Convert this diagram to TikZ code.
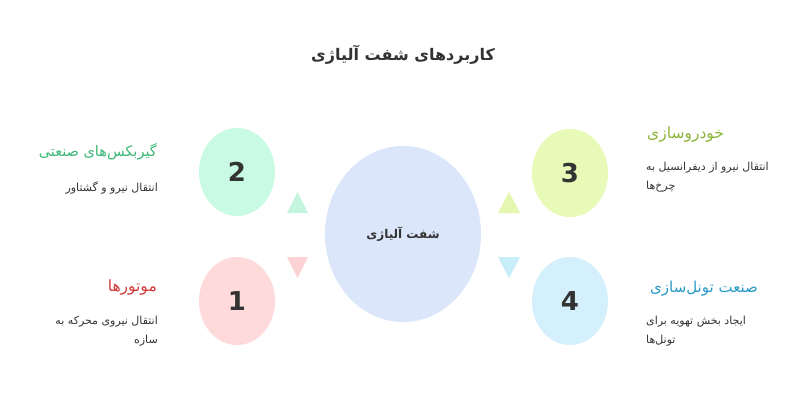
\documentclass[tikz,border=0pt]{standalone}
\usepackage{fontspec}
\usetikzlibrary{shapes.geometric}
\TeXXeTstate=1
\newfontfamily\arabicfont[Script=Arabic]{DejaVu Sans}
\newfontfamily\numfont{DejaVu Sans}
\definecolor{txt}{HTML}{333333}
\definecolor{cmid}{HTML}{DCE6FA}
\definecolor{cone}{HTML}{FEDADA}
\definecolor{ctwo}{HTML}{C8FAE4}
\definecolor{cthree}{HTML}{E8FAB8}
\definecolor{cfour}{HTML}{D4F0FC}
\definecolor{tone}{HTML}{FCD2D4}
\definecolor{ttwo}{HTML}{C4F5DE}
\definecolor{tthree}{HTML}{E4F7B0}
\definecolor{tfour}{HTML}{C8EEFA}
\definecolor{hone}{HTML}{D43A3A}
\definecolor{htwo}{HTML}{3CB878}
\definecolor{hthree}{HTML}{8BB53A}
\definecolor{hfour}{HTML}{2A9BC7}
\tikzset{
  numcirc/.style={ellipse, minimum width=76pt, minimum height=88pt, inner sep=0pt,
    font=\numfont\bfseries\fontsize{26}{26}\selectfont, text=txt},
  headl/.style={anchor=east, inner sep=0pt, font=\arabicfont\fontsize{15.5}{18}\selectfont},
  headr/.style={anchor=west, inner sep=0pt, font=\arabicfont\fontsize{15.5}{18}\selectfont},
  descl/.style={anchor=north east, align=right, text=txt, inner sep=0pt,
    font=\arabicfont\fontsize{11}{19}\selectfont},
  descr/.style={anchor=north west, align=left, text=txt, inner sep=0pt,
    font=\arabicfont\fontsize{11}{19}\selectfont},
}
\begin{document}
\begin{tikzpicture}[x=1pt,y=-1pt]
\useasboundingbox (0,0) rectangle (800,400);
\fill[white] (0,0) rectangle (800,400);
\node[text=txt, font=\arabicfont\bfseries\fontsize{16}{20}\selectfont] (title) at (403,55) {\beginR کاربردهای شفت آلیاژی\endR};
\node[ellipse, fill=cmid, minimum width=156pt, minimum height=176pt, inner sep=0pt,
  text=txt, font=\arabicfont\bfseries\fontsize{12}{16}\selectfont] (mid) at (403,234) {\beginR شفت آلیاژی\endR};
\node[numcirc, fill=ctwo] (n2) at (237,172) {2};
\node[numcirc, fill=cone] (n1) at (237,301) {1};
\node[numcirc, fill=cthree] (n3) at (570,173) {3};
\node[numcirc, fill=cfour] (n4) at (570,301) {4};
\fill[ttwo] (297.5,192) -- (308,213) -- (287,213) -- cycle;
\fill[tone] (287,257) -- (308,257) -- (297.5,278) -- cycle;
\fill[tthree] (509,192) -- (520,213) -- (498,213) -- cycle;
\fill[tfour] (498,257) -- (520,257) -- (509,278) -- cycle;
\node[headl, text=htwo, font=\arabicfont\fontsize{14.5}{18}\selectfont] (h2) at (157,152) {\beginR گیربکس‌های صنعتی\endR};
\node[descl] (d2) at (158,181) {\beginR انتقال نیرو و گشتاور\endR};
\node[headl, text=hone] (h1) at (157,287) {\beginR موتورها\endR};
\node[descl] (d1) at (158,316) {\beginR انتقال نیروی محرکه به\endR\\\beginR سازه\endR};
\node[headr, text=hthree] (h3) at (647,134) {\beginR خودروسازی\endR};
\node[descr] (d3) at (646,162) {\beginR انتقال نیرو از دیفرانسیل به\endR\\\beginR چرخ‌ها\endR};
\node[headr, text=hfour, font=\arabicfont\fontsize{15}{18}\selectfont] (h4) at (650,289) {\beginR صنعت تونل‌سازی\endR};
\node[descr] (d4) at (646,316) {\beginR ایجاد بخش تهویه برای\endR\\\beginR تونل‌ها\endR};
\end{tikzpicture}
\end{document}
